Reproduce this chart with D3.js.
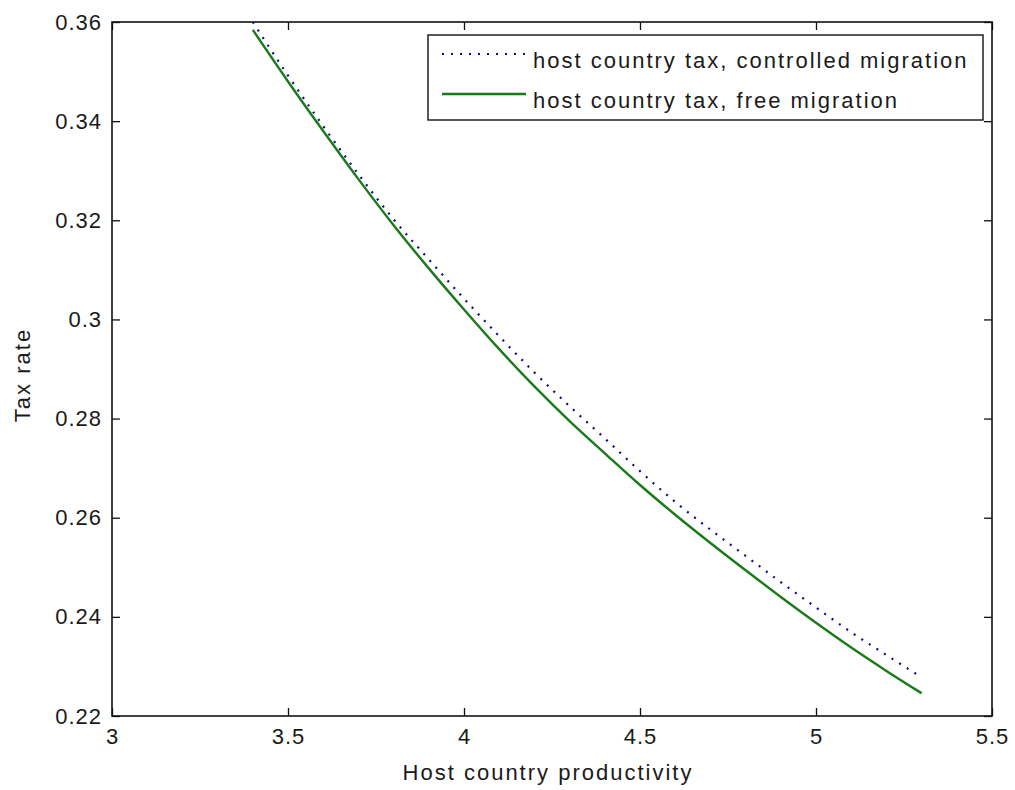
<!DOCTYPE html>
<html>
<head>
<meta charset="utf-8">
<script src="https://cdn.jsdelivr.net/npm/d3@7"></script>
<style>
  html, body { margin: 0; padding: 0; background: #fff; }
  text { font-family: "Liberation Sans", Arial, sans-serif; fill: #1a1a1a; }
</style>
</head>
<body>
<svg id="chart" width="1015" height="790"></svg>
<script>
// ---- data ----
const productivity = [3.4, 3.5, 3.6, 3.7, 3.8, 3.9, 4.0, 4.1, 4.2, 4.3, 4.4, 4.5, 4.6, 4.7, 4.8, 4.9, 5.0, 5.1, 5.2, 5.3];
const taxControlled = [0.3600, 0.3492, 0.3390, 0.3293, 0.3202, 0.3121, 0.3042, 0.2966, 0.2893, 0.2825, 0.2760, 0.2694, 0.2632, 0.2576, 0.2523, 0.2470, 0.2419, 0.2369, 0.2323, 0.2278];
const taxFree = [0.3584, 0.3480, 0.3380, 0.3283, 0.3190, 0.3103, 0.3020, 0.2940, 0.2865, 0.2795, 0.2730, 0.2666, 0.2606, 0.2549, 0.2494, 0.2440, 0.2388, 0.2338, 0.2291, 0.2246];
const xTicks = [3, 3.5, 4, 4.5, 5, 5.5];
const yTicks = [0.22, 0.24, 0.26, 0.28, 0.30, 0.32, 0.34, 0.36];
const seriesNames = ["host country tax, controlled migration", "host country tax, free migration"];
const xLabel = "Host country productivity";
const yLabel = "Tax rate";

// ---- layout ----
const svg = d3.select("#chart");
const L = 112, R = 992, T = 22, B = 716;
const x = d3.scaleLinear().domain([3, 5.5]).range([L, R]);
const y = d3.scaleLinear().domain([0.22, 0.36]).range([B, T]);
const fontSize = 22, ls = "2px";

const clipId = "plotclip";
svg.append("clipPath").attr("id", clipId).append("rect")
  .attr("x", L).attr("y", T).attr("width", R - L).attr("height", B - T);

// axes with inward ticks
const tickLen = 8;
const fmtY = d => String(+d.toFixed(2));
const fmtX = d => String(d);

const gB = svg.append("g").attr("transform", `translate(0,${B})`)
  .call(d3.axisBottom(x).tickValues(xTicks).tickFormat(fmtX).tickSizeInner(-tickLen).tickSizeOuter(0).tickPadding(12));
const gT = svg.append("g").attr("transform", `translate(0,${T})`)
  .call(d3.axisTop(x).tickValues(xTicks).tickFormat("").tickSizeInner(-tickLen).tickSizeOuter(0));
const gL = svg.append("g").attr("transform", `translate(${L},0)`)
  .call(d3.axisLeft(y).tickValues(yTicks).tickFormat(fmtY).tickSizeInner(-tickLen).tickSizeOuter(0).tickPadding(10));
const gR = svg.append("g").attr("transform", `translate(${R},0)`)
  .call(d3.axisRight(y).tickValues(yTicks).tickFormat("").tickSizeInner(-tickLen).tickSizeOuter(0));

[gB, gT, gL, gR].forEach(g => {
  g.select(".domain").remove();
  g.selectAll(".tick line").attr("stroke", "#111").attr("stroke-width", 1.3);
  g.selectAll("text").attr("font-size", fontSize).style("letter-spacing", "1px").attr("fill", "#222")
    .attr("font-family", "Liberation Sans, Arial, sans-serif");
});
gB.selectAll(".tick text").attr("dy", "0.71em");

// frame
svg.append("rect").attr("x", L).attr("y", T).attr("width", R - L).attr("height", B - T)
  .attr("fill", "none").attr("stroke", "#111").attr("stroke-width", 1.6);

// lines
const line = d3.line().x((d, i) => x(productivity[i])).y(d => y(d)).curve(d3.curveMonotoneX);
const plot = svg.append("g").attr("clip-path", `url(#${clipId})`);
plot.append("path").datum(taxControlled).attr("d", line)
  .attr("fill", "none").attr("stroke", "#0a0a8c").attr("stroke-width", 2.2)
  .attr("stroke-dasharray", "2,7");
plot.append("path").datum(taxFree).attr("d", line)
  .attr("fill", "none").attr("stroke", "#1a7a1a").attr("stroke-width", 2.4);

// labels
svg.append("text").attr("x", 548).attr("y", 780).attr("text-anchor", "middle")
  .attr("font-size", fontSize).style("letter-spacing", ls).text(xLabel);
svg.append("text").attr("transform", `translate(30,${(T + B) / 2 + 6}) rotate(-90)`)
  .attr("text-anchor", "middle").attr("font-size", fontSize).style("letter-spacing", ls).text(yLabel);

// legend
const lg = svg.append("g");
lg.append("rect").attr("x", 428).attr("y", 35).attr("width", 555).attr("height", 85)
  .attr("fill", "#fff").attr("stroke", "#111").attr("stroke-width", 1.4);
const legendRows = [
  { name: seriesNames[0], color: "#0a0a8c", dash: "2,7", w: 2.2, ly: 54 },
  { name: seriesNames[1], color: "#1a7a1a", dash: null, w: 2.6, ly: 94 }
];
legendRows.forEach(r => {
  lg.append("line").attr("x1", 442).attr("x2", 526).attr("y1", r.ly).attr("y2", r.ly)
    .attr("stroke", r.color).attr("stroke-width", r.w).attr("stroke-dasharray", r.dash);
  lg.append("text").attr("x", 533).attr("y", r.ly + 14).attr("font-size", fontSize)
    .style("letter-spacing", ls).text(r.name);
});
</script>
</body>
</html>
